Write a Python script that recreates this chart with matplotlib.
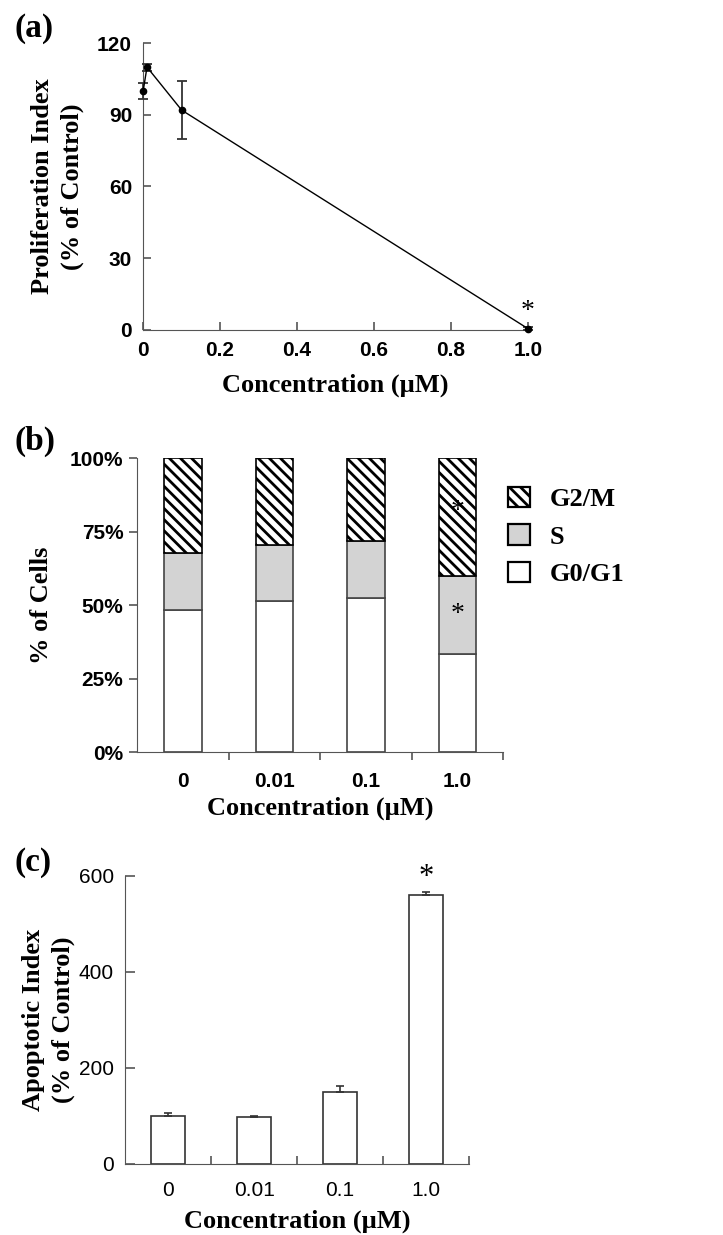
import matplotlib
matplotlib.use('Agg')
import matplotlib.pyplot as plt
import numpy as np

# panel (a): proliferation index
conc_a = [0.0, 0.01, 0.1, 1.0]
prolif = [100, 110, 92, 0.5]
prolif_err = [3.5, 1.5, 12, 0.5]

# panel (b): cell cycle distribution (%)
groups = ['0', '0.01', '0.1', '1.0']
g0g1 = [48.2, 51.5, 52.6, 33.5]
s_phase = [19.5, 19.1, 19.2, 26.5]
g2m = [32.3, 29.4, 28.2, 40.0]

# panel (c): apoptotic index
apopt = [99, 97, 149, 560]
apopt_err = [7, 2, 14, 6]

serif = 'Liberation Serif'
sans = 'Liberation Sans'
plt.rcParams['hatch.linewidth'] = 2.0
plt.rcParams['axes.edgecolor'] = '#555555'
plt.rcParams['xtick.color'] = '#555555'
plt.rcParams['ytick.color'] = '#555555'

fig = plt.figure(figsize=(7.23, 12.35), dpi=100)

label_font = dict(family=serif, weight='bold', size=19)
tick_font_b = dict(family=sans, weight='bold', size=15)

# ---------- (a)
ax1 = fig.add_axes([0.198, 0.733, 0.532, 0.232])
ax1.errorbar(conc_a, prolif, yerr=prolif_err, color='black', lw=1.0,
             marker='o', ms=4.5, ecolor='#333333', elinewidth=1.3, capsize=3.5,
             capthick=1.3, clip_on=False, zorder=3)
ax1.set_xlim(0, 1.0)
ax1.set_ylim(0, 120)
ax1.set_yticks([0, 30, 60, 90, 120])
ax1.set_xticks([0, 0.2, 0.4, 0.6, 0.8, 1.0])
ax1.set_xticklabels(['0', '0.2', '0.4', '0.6', '0.8', '1.0'])
for sp in ['top', 'right']:
    ax1.spines[sp].set_visible(False)
ax1.tick_params(direction='in', length=6, width=1.2, pad=8)
for t in ax1.get_xticklabels() + ax1.get_yticklabels():
    t.set_fontproperties(matplotlib.font_manager.FontProperties(**tick_font_b))
    t.set_color('black')
ax1.annotate('*', (conc_a[-1], prolif[-1]), xytext=(0, 12), textcoords='offset points',
             ha='center', va='center', fontsize=20, family=serif)
ax1.set_xlabel('Concentration (\u00b5M)', labelpad=10, **label_font)
ax1.set_ylabel('Proliferation Index\n(% of Control)', linespacing=1.35, **label_font)
ax1.yaxis.set_label_coords(-0.155, 0.5)

# ---------- (b)
ax2 = fig.add_axes([0.190, 0.391, 0.506, 0.238])
x = np.arange(len(groups))
w = 0.41
ax2.bar(x, g0g1, w, color='white', edgecolor='#444444', lw=1.2, label='G0/G1')
ax2.bar(x, s_phase, w, bottom=g0g1, color='#d3d3d3', edgecolor='#444444', lw=1.2, label='S')
bot = np.array(g0g1) + np.array(s_phase)
ax2.bar(x, g2m, w, bottom=bot, color='white', edgecolor='black', lw=1.2,
        hatch='\\\\\\', label='G2/M')
ax2.set_xlim(-0.5, 3.5)
ax2.set_ylim(0, 100)
ax2.set_yticks([0, 25, 50, 75, 100])
ax2.set_yticklabels(['0%', '25%', '50%', '75%', '100%'])
ax2.set_xticks(x)
ax2.set_xticklabels(groups)
ax2.set_xticks([0.5, 1.5, 2.5, 3.5], minor=True)
ax2.tick_params(axis='x', which='major', length=0, pad=14)
ax2.tick_params(axis='x', which='minor', direction='out', length=6, width=1.2)
ax2.tick_params(axis='y', direction='out', length=6, width=1.2, pad=4)
for sp in ['top', 'right']:
    ax2.spines[sp].set_visible(False)
for t in ax2.get_xticklabels() + ax2.get_yticklabels():
    t.set_fontproperties(matplotlib.font_manager.FontProperties(**tick_font_b))
    t.set_color('black')
ax2.text(x[3], g0g1[3] + s_phase[3] + g2m[3] * 0.55, '*', ha='center', va='center',
         fontsize=20, family=serif)
ax2.text(x[3], g0g1[3] + s_phase[3] * 0.5, '*', ha='center', va='center',
         fontsize=20, family=serif)
h, l = ax2.get_legend_handles_labels()
leg = ax2.legend(h[::-1], l[::-1], loc='upper left', bbox_to_anchor=(1.0, 0.92),
                 frameon=False, borderaxespad=0, borderpad=0.2,
                 handlelength=0.8, handleheight=0.8, labelspacing=0.5, handletextpad=0.75,
                 prop=dict(family=serif, weight='bold', size=19))
for p in leg.get_patches():
    p.set_edgecolor('black')
    p.set_linewidth(1.6)
ax2.set_xlabel('Concentration (\u00b5M)', labelpad=4, **label_font)
ax2.set_ylabel('% of Cells', labelpad=12, **label_font)

# ---------- (c)
ax3 = fig.add_axes([0.173, 0.0575, 0.476, 0.2335])
ax3.bar(x, apopt, 0.4, color='white', edgecolor='#333333', lw=1.2)
ax3.errorbar(x, apopt, yerr=[np.zeros(len(apopt)), apopt_err], fmt='none',
             ecolor='#333333', elinewidth=1.2, capsize=3, capthick=1.2)
ax3.set_xlim(-0.5, 3.5)
ax3.set_ylim(0, 600)
ax3.set_yticks([0, 200, 400, 600])
ax3.set_xticks(x)
ax3.set_xticklabels(groups)
ax3.set_xticks([0.5, 1.5, 2.5, 3.5], minor=True)
ax3.tick_params(axis='x', which='major', length=0, pad=12)
ax3.tick_params(axis='x', which='minor', direction='in', length=6, width=1.2)
ax3.tick_params(axis='y', direction='in', length=7, width=1.2, pad=8)
for sp in ['top', 'right']:
    ax3.spines[sp].set_visible(False)
for t in ax3.get_xticklabels() + ax3.get_yticklabels():
    t.set_fontproperties(matplotlib.font_manager.FontProperties(family=sans, size=15))
    t.set_color('black')
ax3.text(x[3], apopt[3] + apopt_err[3] + 30, '*', ha='center', va='center',
         fontsize=22, family=serif)
ax3.set_xlabel('Concentration (\u00b5M)', labelpad=7, **label_font)
ax3.set_ylabel('Apoptotic Index\n(% of Control)', linespacing=1.35, **label_font)
ax3.yaxis.set_label_coords(-0.145, 0.5)

# panel letters
for lbl, yy in [('(a)', 0.977), ('(b)', 0.643), ('(c)', 0.302)]:
    fig.text(0.02, yy, lbl, family=serif, weight='bold', size=24, va='center')

fig.savefig('out.png', dpi=100)
